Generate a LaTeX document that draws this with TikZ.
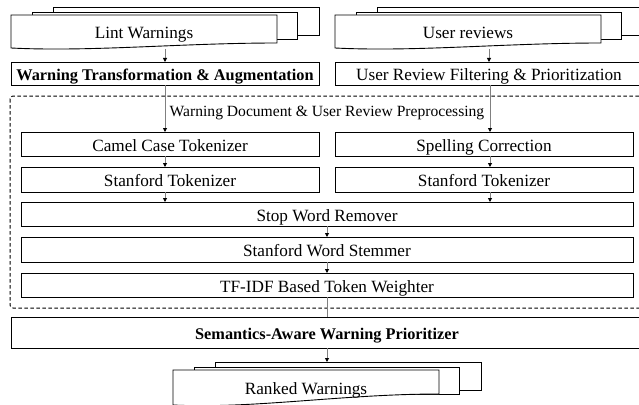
\documentclass[tikz,border=0pt]{standalone}
\usepackage{fontspec}
\setmainfont{Liberation Serif}
\usetikzlibrary{arrows.meta}

\newcommand{\flowfont}{\fontsize{17.2}{20}\selectfont}
\newcommand{\flowbold}{\fontsize{16.3}{20}\selectfont\bfseries}
\newcommand{\flowlabel}{\fontsize{15.6}{18}\selectfont}

% Stack of three pages: #1 left x, #2 top y of front page, #3 name,
% #4 text, #5 left bottom offset, #6 right bottom offset of the front page
\newcommand{\pagestack}[6]{%
  \node[page, minimum width=266pt, minimum height=28pt, anchor=north west]
    (#3back) at (#1+42,#2-8) {};
  \node[page, minimum width=265pt, minimum height=27pt, anchor=north west]
    (#3mid) at (#1+21,#2-3) {};
  \draw[page] (#1,#2) -- (#1+266,#2) -- (#1+266,#2+#6)
    .. controls (#1+170,#2+#6) and (#1+80,#2+#5+4) .. (#1,#2+#5) -- cycle;
  \node[font=\flowfont, anchor=base] (#3) at (#1+133,#2+24) {#4};
  \coordinate (#3foot) at (#1+154,#2+34);
}

\begin{document}
\begin{tikzpicture}[x=1pt, y=-1pt,
  page/.style={draw=black, line width=0.9pt, fill=white, inner sep=0pt, outer sep=0pt},
  box/.style={draw=black, line width=0.9pt, fill=white, inner sep=0pt, outer sep=0pt,
              text height=14pt, text depth=0pt, font=\flowfont},
  boldbox/.style={box, font=\flowbold},
  conn/.style={draw=black!50, line width=0.9pt},
  arr/.style={conn, -{Triangle[length=4pt, width=4pt, color=black]}},
  group/.style={draw=black, line width=1pt, dash pattern=on 3.5pt off 2.5pt, rounded corners=3pt}
]
\useasboundingbox (0,0) rectangle (639,404);
\clip (0,0) rectangle (639,404);
\fill[white] (0,0) rectangle (639,404);

% column positions of the vertical connectors
\coordinate (lx) at (165,0);
\coordinate (rx) at (490,0);
\coordinate (mx) at (327,0);

% inputs
\pagestack{11}{15}{lint}{Lint Warnings}{33}{28}
\pagestack{335}{15}{user}{User reviews}{33}{28}

% input preparation
\node[boldbox, minimum width=308pt, minimum height=23pt] (wta) at (165,73.5)
  {Warning Transformation \& Augmentation};
\node[box, minimum width=308pt, minimum height=23pt] (urf) at (489,73.5)
  {User Review Filtering \& Prioritization};

% preprocessing group
\draw[group] (10,96) rectangle (644,308);
\node[font=\flowlabel, anchor=base] (pre) at (327,116.5)
  {Warning Document \& User Review Preprocessing};

\node[box, minimum width=298pt, minimum height=24pt] (camel) at (170,144) {Camel Case Tokenizer};
\node[box, minimum width=298pt, minimum height=24pt] (spell) at (484,144) {Spelling Correction};
\node[box, minimum width=298pt, minimum height=25pt] (stanL) at (170,179.5) {Stanford Tokenizer};
\node[box, minimum width=298pt, minimum height=25pt] (stanR) at (484,179.5) {Stanford Tokenizer};
\node[box, minimum width=612pt, minimum height=24pt] (stop) at (327,214) {Stop Word Remover};
\node[box, minimum width=612pt, minimum height=25pt] (stem) at (327,249.5) {Stanford Word Stemmer};
\node[box, minimum width=612pt, minimum height=24pt] (tfidf) at (327,285) {TF-IDF Based Token Weighter};

% prioritizer
\node[boldbox, minimum width=632pt, minimum height=31pt] (sem) at (327,332.5)
  {Semantics-Aware Warning Prioritizer};

% output
\pagestack{173}{370}{ranked}{Ranked Warnings}{35}{24}

% connectors
\draw[arr] (lintfoot) -- (wta.north -| lintfoot);
\draw[arr] (userfoot) -- (urf.north -| userfoot);
\draw[arr] (wta.south -| lx) -- (camel.north -| lx);
\draw[arr] (urf.south -| rx) -- (spell.north -| rx);
\draw[arr] (camel.south -| lx) -- (stanL.north -| lx);
\draw[arr] (spell.south -| rx) -- (stanR.north -| rx);
\draw[arr] (stanL.south -| lx) -- (stop.north -| lx);
\draw[arr] (stanR.south -| rx) -- (stop.north -| rx);
\draw[arr] (stop.south -| mx) -- (stem.north -| mx);
\draw[arr] (stem.south -| mx) -- (tfidf.north -| mx);
\draw[conn] (tfidf.south -| mx) -- (sem.north -| mx);
\draw[arr] (sem.south -| mx) -- (rankedback.north -| mx);
\end{tikzpicture}
\end{document}
